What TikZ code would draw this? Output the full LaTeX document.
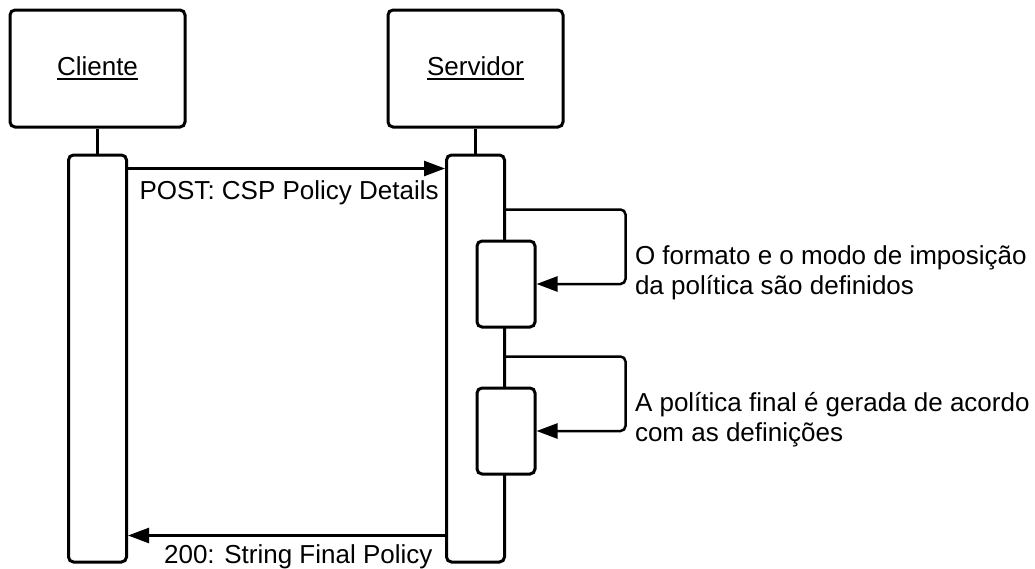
\documentclass[tikz,border=0pt]{standalone}
\usepackage{fontspec}
\setmainfont{Liberation Sans}
\usetikzlibrary{positioning,arrows.meta}

\newcommand\lnunder[1]{\setbox0\hbox{#1}\rlap{\rule[-5pt]{\wd0}{2pt}}\box0}

\begin{document}
\begin{tikzpicture}[x=1pt,y=-1pt,line width=3pt,on grid,
  every node/.style={font=\fontsize{26}{30}\selectfont},
  head/.style={draw,rounded corners=5pt,minimum width=175pt,minimum height=117pt,inner sep=0pt},
  bar/.style={draw,fill=white,rounded corners=5pt,minimum width=58pt,minimum height=407pt,inner sep=0pt},
  act/.style={draw,fill=white,rounded corners=5pt,minimum width=58pt,minimum height=86pt,inner sep=0pt},
  msg/.style={-{Triangle[length=21pt,width=15pt]},line width=2.5pt},
  note/.style={align=left,inner sep=0pt,anchor=north west}]
\useasboundingbox (0,0) rectangle (1035,568);

\node[head] (cliente) at (97.5,68.5) {};
\node[head] (servidor) [right=378pt of cliente] {};
\node[anchor=base] (cliente-lbl) at ([yshift=-6.5pt]cliente.center) {\lnunder{Cliente}};
\node[anchor=base] (servidor-lbl) at ([yshift=-6.5pt]servidor.center) {\lnunder{Servidor}};

\node[bar] (cbar) [below=290pt of cliente] {};
\node[bar] (sbar) [below=290pt of servidor] {};

\draw (cliente) -- (cbar);
\draw (servidor) -- (sbar);

% activations on the server
\node[act] (p1) at ([yshift=-130.5pt]sbar.north east) {};
\node[act] (p2) at ([yshift=-277.5pt]sbar.north east) {};

% messages
\draw[msg] ([yshift=-15pt]cbar.north east) -- ([yshift=-15pt]sbar.north west)
  node[pos=0,below right=8pt and 7pt,anchor=north west] (post) {POST: CSP Policy Details};
\draw[msg] ([yshift=28pt]sbar.south west) -- ([yshift=28pt]cbar.south east)
  node[pos=0,below left=5pt and 8pt,anchor=north east] (resp) {200: String Final Policy};

% self calls
\draw[msg,rounded corners=5pt] ([yshift=30pt]p1.north -| sbar.east) -| ([xshift=89pt]p1.east) -- (p1.east);
\draw[msg,rounded corners=5pt] ([yshift=30pt]p2.north -| sbar.east) -| ([xshift=89pt]p2.east) -- (p2.east);

\node[note] (n1) at ([xshift=97pt,yshift=-5pt]p1.north east) {O formato e o modo de imposição\\da política são definidos};
\node[note] (n2) at ([xshift=97pt,yshift=-4pt]p2.north east) {A política final é gerada de acordo\\com as definições};
\end{tikzpicture}
\end{document}
